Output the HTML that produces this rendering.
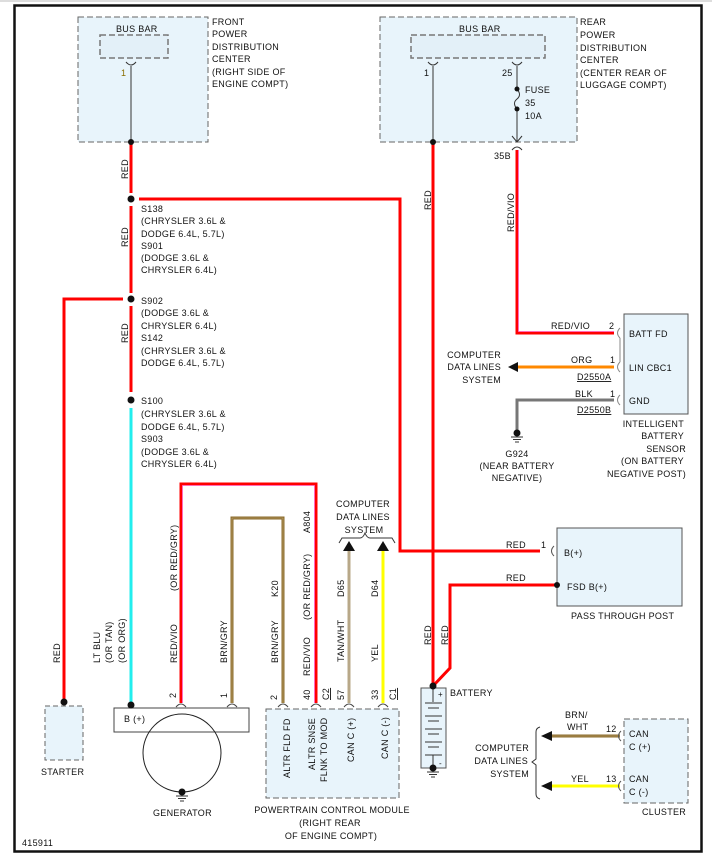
<!DOCTYPE html>
<html><head><meta charset="utf-8"><style>
html,body{margin:0;padding:0;background:#fff;}
svg{display:block;}
text{font-family:"Liberation Sans",sans-serif;font-size:9px;fill:#111;letter-spacing:0.3px;}
</style></head><body>
<svg width="712" height="855" viewBox="0 0 712 855" xmlns="http://www.w3.org/2000/svg">
<rect x="0" y="0" width="712" height="855" fill="#fff"/>
<line x1="0" y1="1" x2="712" y2="1" stroke="#ddd" stroke-width="2"/>
<rect x="14.5" y="5.5" width="687" height="846" fill="none" stroke="#111" stroke-width="2.5"/>

<!-- Front PDC -->
<rect x="78" y="17" width="130" height="125" fill="#e8f4fb" stroke="#666" stroke-dasharray="6,3"/>
<text x="116" y="32">BUS BAR</text>
<rect x="100" y="35" width="68" height="23" fill="#e3f0f8" stroke="#777" stroke-width="1.5" stroke-dasharray="6,3"/>
<path d="M126 62 Q131 68 136 62" fill="none" stroke="#333"/>
<line x1="131" y1="66" x2="131" y2="142" stroke="#333"/>
<text x="121" y="76" style="fill:#8a6d00">1</text>
<text x="212" y="25">FRONT</text><text x="212" y="37">POWER</text><text x="212" y="50">DISTRIBUTION</text><text x="212" y="62">CENTER</text><text x="212" y="75">(RIGHT SIDE OF</text><text x="212" y="87">ENGINE COMPT)</text>

<!-- Rear PDC -->
<rect x="380" y="17" width="197" height="125" fill="#e8f4fb" stroke="#666" stroke-dasharray="6,3"/>
<text x="459" y="32">BUS BAR</text>
<rect x="411" y="35" width="134" height="23" fill="#e3f0f8" stroke="#777" stroke-width="1.5" stroke-dasharray="6,3"/>
<path d="M428 62 Q433 68 438 62" fill="none" stroke="#333"/>
<path d="M512 62 Q517 68 522 62" fill="none" stroke="#333"/>
<line x1="433" y1="66" x2="433" y2="142" stroke="#333"/>
<line x1="517" y1="66" x2="517" y2="89" stroke="#333"/>
<path d="M517 89 Q522 95 517 99 Q512 103 517 109" fill="none" stroke="#333"/>
<line x1="517" y1="109" x2="517" y2="142" stroke="#333"/>
<path d="M512 136 L517 142 L522 136" fill="none" stroke="#333"/>
<path d="M512 150 Q517 144 522 150" fill="none" stroke="#333"/>
<circle cx="517" cy="89" r="2.5" fill="#111"/><circle cx="517" cy="109" r="2.5" fill="#111"/>
<text x="424" y="76">1</text><text x="502" y="76">25</text>
<text x="525" y="93">FUSE</text><text x="525" y="106">35</text><text x="525" y="119">10A</text>
<text x="494" y="159">35B</text>
<text x="580" y="25">REAR</text><text x="580" y="38">POWER</text><text x="580" y="51">DISTRIBUTION</text><text x="580" y="63">CENTER</text><text x="580" y="76">(CENTER REAR OF</text><text x="580" y="88">LUGGAGE COMPT)</text>

<!-- Left main red trunk -->
<g stroke="#f00" stroke-width="3" fill="none">
<line x1="131" y1="143" x2="131" y2="193"/>
<line x1="131" y1="206" x2="131" y2="293"/>
<line x1="131" y1="306" x2="131" y2="392"/>
<polyline points="139,199 400,199 400,551 540,551"/>
<polyline points="123,299 64,299 64,702"/>
<line x1="433" y1="143" x2="433" y2="686"/>
<polyline points="557,585 450,585 450,668 433,686"/>
</g>
<line x1="131" y1="408" x2="131" y2="704" stroke="#2ee" stroke-width="3"/>
<circle cx="131" cy="142" r="3" fill="#111"/>
<circle cx="433" cy="142" r="3" fill="#111"/>
<circle cx="131" cy="199" r="3.5" fill="#111"/>
<circle cx="131" cy="299" r="3.5" fill="#111"/>
<circle cx="131" cy="400" r="3.5" fill="#111"/>
<g transform="translate(128,179) rotate(-90)"><text>RED</text></g>
<g transform="translate(128,247) rotate(-90)"><text>RED</text></g>
<g transform="translate(128,343) rotate(-90)"><text>RED</text></g>
<g transform="translate(431,210) rotate(-90)"><text>RED</text></g>
<text x="141" y="212">S138</text><text x="141" y="224">(CHRYSLER 3.6L &amp;</text><text x="141" y="237">DODGE 6.4L, 5.7L)</text><text x="141" y="249">S901</text><text x="141" y="261">(DODGE 3.6L &amp;</text><text x="141" y="273">CHRYSLER 6.4L)</text>
<text x="141" y="304">S902</text><text x="141" y="316">(DODGE 3.6L &amp;</text><text x="141" y="329">CHRYSLER 6.4L)</text><text x="141" y="341">S142</text><text x="141" y="354">(CHRYSLER 3.6L &amp;</text><text x="141" y="366">DODGE 6.4L, 5.7L)</text>
<text x="141" y="404">S100</text><text x="141" y="417">(CHRYSLER 3.6L &amp;</text><text x="141" y="430">DODGE 6.4L, 5.7L)</text><text x="141" y="442">S903</text><text x="141" y="455">(DODGE 3.6L &amp;</text><text x="141" y="467">CHRYSLER 6.4L)</text>

<!-- RED/VIO to sensor -->
<polyline points="517,150 517,333 614,333" fill="none" stroke="#f00" stroke-width="3"/>
<polyline points="518.5,150 518.5,331.5 614,331.5" fill="none" stroke="#f6c" stroke-width="0.8"/>
<g transform="translate(514,232) rotate(-90)"><text>RED/VIO</text></g>
<text x="551" y="329">RED/VIO</text><text x="609" y="329">2</text>
<line x1="517" y1="367" x2="614" y2="367" stroke="#f80" stroke-width="3"/>
<polygon points="508,367 518,362 518,372" fill="#111"/>
<text x="571" y="363">ORG</text><text x="610" y="363">1</text>
<text x="577" y="380" style="text-decoration:underline">D2550A</text>
<polyline points="614,400 517,400 517,430" fill="none" stroke="#777" stroke-width="3"/>
<text x="575" y="397">BLK</text><text x="610" y="397">1</text>
<text x="577" y="413" style="text-decoration:underline">D2550B</text>
<circle cx="517" cy="433" r="3.5" fill="#111"/>
<line x1="511" y1="437" x2="523" y2="437" stroke="#333"/><line x1="513" y1="439.5" x2="521" y2="439.5" stroke="#333"/><line x1="515" y1="442" x2="519" y2="442" stroke="#333"/>
<text x="517" y="457" text-anchor="middle">G924</text><text x="517" y="469" text-anchor="middle">(NEAR BATTERY</text><text x="517" y="481" text-anchor="middle">NEGATIVE)</text>
<text x="501" y="358" text-anchor="end">COMPUTER</text><text x="501" y="370" text-anchor="end">DATA LINES</text><text x="501" y="383" text-anchor="end">SYSTEM</text>
<rect x="624" y="314" width="64" height="100" fill="#e8f4fb" stroke="#555"/>
<g fill="none" stroke="#888"><path d="M620 328 Q615 333 620 338"/><path d="M620 362 Q615 367 620 372"/><path d="M620 395 Q615 400 620 405"/><line x1="620" y1="338" x2="620" y2="362"/></g>
<text x="629" y="337">BATT FD</text><text x="629" y="371">LIN CBC1</text><text x="629" y="404">GND</text>
<text x="684" y="427" text-anchor="end">INTELLIGENT</text><text x="684" y="439" text-anchor="end">BATTERY</text><text x="686" y="452" text-anchor="end">SENSOR</text><text x="684" y="464" text-anchor="end">(ON BATTERY</text><text x="686" y="477" text-anchor="end">NEGATIVE POST)</text>

<!-- Pass through post -->
<rect x="557" y="528" width="125" height="78" fill="#e8f4fb" stroke="#555"/>
<path d="M554 546 Q549 551 554 556" fill="none" stroke="#555"/>
<circle cx="557" cy="585" r="3" fill="#111"/>
<text x="506" y="548">RED</text><text x="541" y="548">1</text>
<text x="506" y="581">RED</text>
<text x="564" y="556">B(+)</text><text x="567" y="590">FSD B(+)</text>
<text x="571" y="619">PASS THROUGH POST</text>

<!-- Starter -->
<rect x="45" y="706" width="38" height="54" fill="#e8f4fb" stroke="#666" stroke-dasharray="5,3"/>
<circle cx="64" cy="702" r="3.5" fill="#111"/>
<g transform="translate(60,663) rotate(-90)"><text>RED</text></g>
<text x="41" y="775">STARTER</text>

<!-- Generator -->
<g transform="translate(100,663) rotate(-90)"><text>LT BLU</text></g>
<g transform="translate(112,663) rotate(-90)"><text>(OR TAN)</text></g>
<g transform="translate(125,663) rotate(-90)"><text>(OR ORG)</text></g>
<polyline points="181,703 181,484 316,484 316,703" fill="none" stroke="#f00" stroke-width="3"/>
<polyline points="182.5,703 182.5,485.5 314.5,485.5 314.5,703" fill="none" stroke="#f6c" stroke-width="0.8"/>
<polyline points="232,703 232,518 283,518 283,703" fill="none" stroke="#8b6b2b" stroke-width="3"/>
<polyline points="232,703 232,518 283,518 283,703" fill="none" stroke="#c8b080" stroke-width="0.6"/>
<g transform="translate(177,663) rotate(-90)"><text>RED/VIO</text></g>
<g transform="translate(177,591) rotate(-90)"><text>(OR RED/GRY)</text></g>
<g transform="translate(227,663) rotate(-90)"><text>BRN/GRY</text></g>
<g transform="translate(278,663) rotate(-90)"><text>BRN/GRY</text></g>
<g transform="translate(278,597) rotate(-90)"><text>K20</text></g>
<g transform="translate(310,676) rotate(-90)"><text>RED/VIO</text></g>
<g transform="translate(310,620) rotate(-90)"><text>(OR RED/GRY)</text></g>
<g transform="translate(310,533) rotate(-90)"><text>A804</text></g>
<rect x="114" y="708" width="135" height="24" fill="#fff" stroke="#444"/>
<circle cx="182" cy="753" r="39" fill="none" stroke="#222"/>
<circle cx="131" cy="705" r="3.5" fill="#111"/>
<text x="124" y="722">B (+)</text>
<path d="M176 707 Q181 701 186 707" fill="none" stroke="#444"/>
<path d="M227 707 Q232 701 237 707" fill="none" stroke="#444"/>
<g transform="translate(176,698) rotate(-90)"><text>2</text></g>
<g transform="translate(227,698) rotate(-90)"><text>1</text></g>
<circle cx="182" cy="792" r="3.5" fill="#111"/>
<line x1="176" y1="796" x2="188" y2="796" stroke="#333"/><line x1="178" y1="798.5" x2="186" y2="798.5" stroke="#333"/><line x1="180" y1="801" x2="184" y2="801" stroke="#333"/>
<text x="153" y="816">GENERATOR</text>

<!-- PCM -->
<line x1="349" y1="548" x2="349" y2="703" stroke="#b8a888" stroke-width="3"/>
<line x1="383" y1="548" x2="383" y2="703" stroke="#ff0" stroke-width="3"/>
<polygon points="349,541 343,551 355,551" fill="#111"/>
<polygon points="383,541 377,551 389,551" fill="#111"/>
<path d="M339 543 L342 538 L360 538 Q363 538 365 533 Q367 538 370 538 L392 538 L395 543" fill="none" stroke="#333"/>
<text x="363" y="507" text-anchor="middle">COMPUTER</text><text x="363" y="520" text-anchor="middle">DATA LINES</text><text x="364" y="533" text-anchor="middle">SYSTEM</text>
<g transform="translate(344,662) rotate(-90)"><text>TAN/WHT</text></g>
<g transform="translate(344,597) rotate(-90)"><text>D65</text></g>
<g transform="translate(378,662) rotate(-90)"><text>YEL</text></g>
<g transform="translate(378,597) rotate(-90)"><text>D64</text></g>
<rect x="266" y="709" width="133" height="89" fill="#e8f4fb" stroke="#666" stroke-dasharray="6,3"/>
<g fill="none" stroke="#444"><path d="M278 707 Q283 701 288 707"/><path d="M311 707 Q316 701 321 707"/><path d="M344 707 Q349 701 354 707"/><path d="M378 707 Q383 701 388 707"/></g>
<g transform="translate(277,700) rotate(-90)"><text>2</text></g>
<g transform="translate(310,700) rotate(-90)"><text>40</text></g>
<g transform="translate(329,700) rotate(-90)"><text style="text-decoration:underline">C2</text></g>
<g transform="translate(344,700) rotate(-90)"><text>57</text></g>
<g transform="translate(378,700) rotate(-90)"><text>33</text></g>
<g transform="translate(396,700) rotate(-90)"><text style="text-decoration:underline">C1</text></g>
<g transform="translate(290,778) rotate(-90)"><text>ALTR FLD FD</text></g>
<g transform="translate(315,770) rotate(-90)"><text>ALTR SNSE</text></g>
<g transform="translate(327,782) rotate(-90)"><text>FLNK TO MOD</text></g>
<g transform="translate(354,762) rotate(-90)"><text>CAN C (+)</text></g>
<g transform="translate(388,759) rotate(-90)"><text>CAN C (-)</text></g>
<text x="332" y="813" text-anchor="middle">POWERTRAIN CONTROL MODULE</text>
<text x="330" y="826" text-anchor="middle">(RIGHT REAR</text>
<text x="331" y="839" text-anchor="middle">OF ENGINE COMPT)</text>

<!-- Battery -->
<g transform="translate(431,645) rotate(-90)"><text>RED</text></g>
<g transform="translate(448,645) rotate(-90)"><text>RED</text></g>
<rect x="421" y="688" width="25" height="80" fill="#e8f4fb" stroke="#555"/>
<line x1="433" y1="688" x2="433" y2="702" stroke="#333"/>
<g stroke="#333"><line x1="425" y1="703" x2="442" y2="703"/><line x1="428" y1="708" x2="439" y2="708"/><line x1="425" y1="716" x2="442" y2="716"/><line x1="428" y1="721" x2="439" y2="721"/><line x1="425" y1="729" x2="442" y2="729"/><line x1="428" y1="734" x2="439" y2="734"/><line x1="425" y1="742" x2="442" y2="742"/><line x1="428" y1="747" x2="439" y2="747"/><line x1="425" y1="755" x2="442" y2="755"/></g>
<line x1="433" y1="755" x2="433" y2="768" stroke="#333"/>
<text x="438" y="697" style="font-size:8px">+</text><text x="439" y="766" style="font-size:8px">-</text>
<circle cx="433" cy="686" r="3.5" fill="#111"/>
<circle cx="433" cy="768" r="3.5" fill="#111"/>
<line x1="427" y1="772" x2="439" y2="772" stroke="#333"/><line x1="429" y1="774.5" x2="437" y2="774.5" stroke="#333"/><line x1="431" y1="777" x2="435" y2="777" stroke="#333"/>
<text x="450" y="696">BATTERY</text>

<!-- Cluster -->
<line x1="550" y1="736" x2="620" y2="736" stroke="#8b6b2b" stroke-width="3"/>
<line x1="550" y1="736" x2="620" y2="736" stroke="#c8b080" stroke-width="0.6"/>
<line x1="550" y1="786" x2="620" y2="786" stroke="#ff0" stroke-width="3"/>
<polygon points="541,736 552,731 552,741" fill="#111"/>
<polygon points="541,786 552,781 552,791" fill="#111"/>
<path d="M540 727 Q536 728 536 732 L536 759 L532 762 L536 765 L536 794 Q536 798 540 799" fill="none" stroke="#333"/>
<text x="529" y="751" text-anchor="end">COMPUTER</text><text x="528" y="764" text-anchor="end">DATA LINES</text><text x="529" y="777" text-anchor="end">SYSTEM</text>
<text x="565" y="718">BRN/</text><text x="567" y="730">WHT</text><text x="606" y="732">12</text>
<text x="571" y="782">YEL</text><text x="606" y="782">13</text>
<rect x="624" y="719" width="64" height="84" fill="#e8f4fb" stroke="#666" stroke-dasharray="6,3"/>
<g fill="none" stroke="#555"><path d="M621 731 Q616 736 621 741"/><path d="M621 781 Q616 786 621 791"/></g>
<text x="629" y="737">CAN</text><text x="629" y="750">C (+)</text>
<text x="629" y="782">CAN</text><text x="629" y="795">C (-)</text>
<text x="642" y="815">CLUSTER</text>

<text x="22" y="846">415911</text>
</svg>
</body></html>
